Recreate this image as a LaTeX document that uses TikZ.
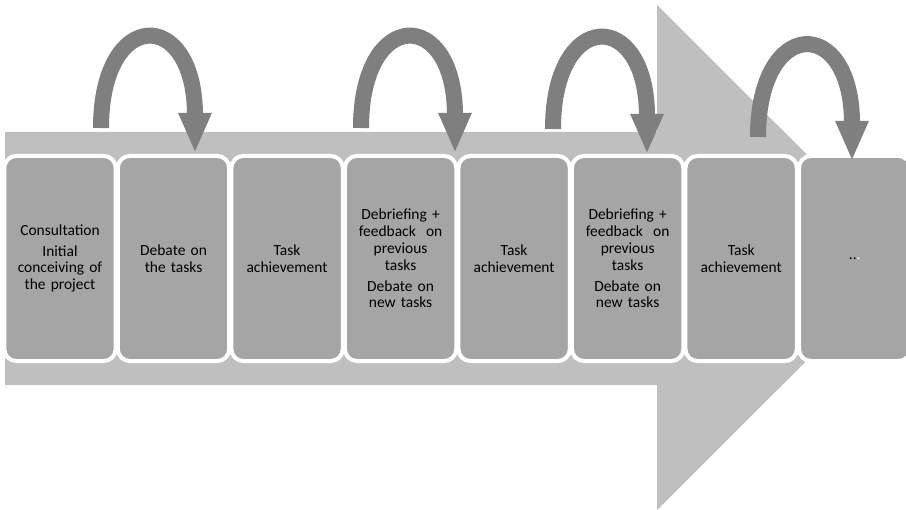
\documentclass[tikz,border=0pt]{standalone}
\usepackage{fontspec}
\setmainfont{Carlito}
\usetikzlibrary{arrows.meta, positioning, calc}
\definecolor{shaftgray}{HTML}{BFBFBF}
\definecolor{boxgray}{HTML}{A5A5A5}
\definecolor{loopgray}{HTML}{7F7F7F}

\begin{document}
\begin{tikzpicture}[x=0.025cm, y=-0.025cm,
					stepbox/.style={rectangle,
					rounded corners=0.3cm,
					line width=0.1cm,
					minimum width=2.65cm,
					minimum height=5.125cm,
					text width=2.55cm,
					align=center,
					draw=white,
					fill=boxgray,
					font=\fontsize{11}{12}\selectfont},
					looparrow/.style={draw=loopgray,
					line width=0.4cm,
					-{Triangle[width=0.76cm, length=1cm]}}
					]

% picture size of the reference (in px)
\useasboundingbox (0,0) rectangle (906,510);

% big background arrow
\fill[shaftgray] (5,132) -- (657,132) -- (657,5) -- (910,257.5) -- (657,510) -- (657,385) -- (5,385) -- cycle;

% step nodes
\node[stepbox]  (box1) at (60,258.5) {Consultation\\[0.1cm] Initial\\ conceiving of\\ the project};
\node[stepbox]  (box2) [right of = box1, node distance=2.8375cm] {Debate on\\ the tasks};
\node[stepbox]  (box3) [right of = box2, node distance=2.8375cm] {Task\\ achievement};
\node[stepbox]  (box4) [right of = box3, node distance=2.8375cm] {Debriefing +\\ feedback\ \ on\\ previous\\ tasks\\[0.1cm] Debate on\\ new tasks};
\node[stepbox]  (box5) [right of = box4, node distance=2.8375cm] {Task\\ achievement};
\node[stepbox]  (box6) [right of = box5, node distance=2.8375cm] {Debriefing +\\ feedback\ \ on\\ previous\\ tasks\\[0.1cm] Debate on\\ new tasks};
\node[stepbox]  (box7) [right of = box6, node distance=2.8375cm] {Task\\ achievement};
\node[stepbox]  (box8) [right of = box7, node distance=2.8375cm] {..\textcolor{white}{.}};

% ends of the loop arrows
\coordinate (loop1a) at (101,128);
\coordinate (loop1b) at (195,153);
\coordinate (loop2a) at (361,128);
\coordinate (loop2b) at (455,153);
\coordinate (loop3a) at (553,129);
\coordinate (loop3b) at (647,154);
\coordinate (loop4a) at (758,137);
\coordinate (loop4b) at (852,161);

% loop arrows
\draw[looparrow] (loop1a) .. controls ($(loop1a)+(0,-121)$) and ($(loop1b)+(0,-146)$) .. (loop1b);
\draw[looparrow] (loop2a) .. controls ($(loop2a)+(0,-121)$) and ($(loop2b)+(0,-146)$) .. (loop2b);
\draw[looparrow] (loop3a) .. controls ($(loop3a)+(0,-121)$) and ($(loop3b)+(0,-146)$) .. (loop3b);
\draw[looparrow] (loop4a) .. controls ($(loop4a)+(0,-121)$) and ($(loop4b)+(0,-146)$) .. (loop4b);

\end{tikzpicture}
\end{document}
